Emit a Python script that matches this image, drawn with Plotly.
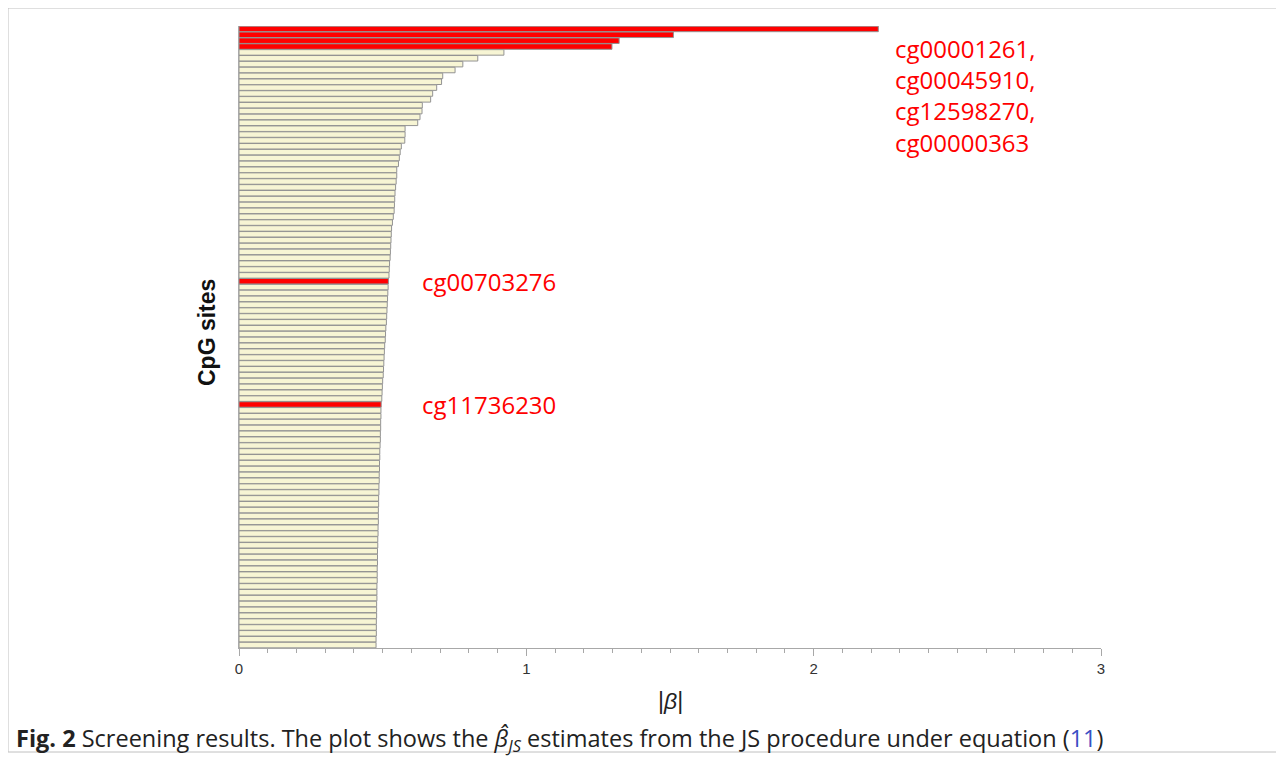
import plotly.graph_objects as go

# |beta| estimates for CpG sites, sorted descending (top to bottom)
values = [
    2.225, 1.512, 1.323, 1.298, 0.922, 0.831, 0.779, 0.752, 0.709, 0.705,
    0.688, 0.674, 0.667, 0.638, 0.637, 0.630, 0.622, 0.578, 0.578, 0.577,
    0.565, 0.561, 0.558, 0.555, 0.549, 0.549, 0.547, 0.545, 0.543, 0.542,
    0.541, 0.540, 0.537, 0.534, 0.531, 0.530, 0.529, 0.528, 0.527, 0.526,
    0.524, 0.523, 0.522, 0.520, 0.519, 0.518, 0.517, 0.516, 0.515, 0.514,
    0.513, 0.511, 0.510, 0.509, 0.507, 0.506, 0.505, 0.504, 0.503, 0.502,
    0.500, 0.499, 0.498, 0.497, 0.495, 0.494, 0.494, 0.493, 0.493, 0.492,
    0.492, 0.491, 0.490, 0.490, 0.489, 0.489, 0.488, 0.488, 0.487, 0.487,
    0.486, 0.486, 0.485, 0.485, 0.485, 0.484, 0.484, 0.483, 0.483, 0.482,
    0.482, 0.482, 0.481, 0.481, 0.481, 0.480, 0.480, 0.480, 0.479, 0.479,
    0.479, 0.478, 0.478, 0.478, 0.477, 0.477,
]
positions = list(range(len(values)))
highlight_idx = [0, 1, 2, 3, 43, 64]
top_sites = ["cg00001261,", "cg00045910,", "cg12598270,", "cg00000363"]
mid_site_1 = "cg00703276"
mid_site_2 = "cg11736230"
x_ticks = [0, 1, 2, 3]

CREAM = "#f7f5d4"
RED = "#ff0000"
GRAY = "#939393"
AXIS_GRAY = "#a8a8a8"

colors = [RED if i in highlight_idx else CREAM for i in positions]

fig = go.Figure()
fig.add_trace(go.Bar(
    x=values, y=positions, orientation="h",
    marker=dict(color=colors, line=dict(color=GRAY, width=1)),
    hoverinfo="x",
))

# page body has an 8px margin; work in screenshot pixels and offset
OFF = 8
W, H = 1284, 761
PL, PR, PT, PB = 239, 1101, 26, 648   # plot area in screenshot pixels
L = PL - OFF
T = PT - OFF
R = W - (PR - OFF)
B = H - (PB - OFF)

fig.update_layout(
    width=W, height=H,
    margin=dict(l=L, r=R, t=T, b=B),
    paper_bgcolor="white", plot_bgcolor="white",
    bargap=0.06, showlegend=False,
    font=dict(family="Liberation Sans, Arial, sans-serif", color="#333"),
)
fig.update_xaxes(
    range=[0, 3], tickvals=x_ticks, ticktext=[str(t) for t in x_ticks],
    showline=True, linecolor=AXIS_GRAY, linewidth=1,
    ticks="outside", ticklen=7, tickcolor=AXIS_GRAY, tickwidth=1,
    minor=dict(dtick=0.1, ticks="outside", ticklen=4, tickcolor=AXIS_GRAY, tickwidth=1),
    showgrid=False, zeroline=False,
    tickfont=dict(size=15, color="#333"),
)
fig.update_yaxes(
    range=[len(values) - 0.5, -0.5],
    showline=True, linecolor=AXIS_GRAY, linewidth=1,
    showticklabels=False, ticks="", showgrid=False, zeroline=False,
)

pw = PR - PL
ph = PB - PT

def px_x(p):
    return (p - PL) / pw

def px_y(p):
    return (PB - p) / ph

# Y axis title
fig.add_annotation(
    xref="paper", yref="paper", x=px_x(207), y=px_y(333),
    text="<b>CpG sites</b>", textangle=-90, showarrow=False,
    font=dict(size=23, color="#111", family="Liberation Sans, Arial, sans-serif"),
    xanchor="center", yanchor="middle",
)
# X axis title
fig.add_annotation(
    xref="paper", yref="paper", x=px_x(670), y=px_y(701),
    text="|<i>β</i>|", showarrow=False,
    font=dict(size=23, color="#222", family="Liberation Sans, Arial, sans-serif"),
    xanchor="center", yanchor="middle",
)

# red labels
lab_font = dict(size=24, color=RED, family="Open Sans, sans-serif")
fig.add_annotation(
    xref="x", yref="paper", x=(893 - PL) / (pw / 3), y=px_y(96),
    text="<br>".join(top_sites), align="left", showarrow=False,
    font=lab_font, xanchor="left", yanchor="middle",
)
fig.add_annotation(
    xref="x", yref="y", x=(420 - PL) / (pw / 3), y=43,
    text=mid_site_1, showarrow=False, font=lab_font,
    xanchor="left", yanchor="middle",
)
fig.add_annotation(
    xref="x", yref="y", x=(420 - PL) / (pw / 3), y=64,
    text=mid_site_2, showarrow=False, font=lab_font,
    xanchor="left", yanchor="middle",
)

# caption
fig.add_annotation(
    xref="paper", yref="paper", x=px_x(14), y=px_y(739),
    text=("<b>Fig. 2</b> Screening results. The plot shows the "
          "<i>β̂</i><sub><i>JS</i></sub> estimates from the JS procedure under equation "
          "(<span style='color:#3a4fc4'>11</span>)"),
    showarrow=False, xanchor="left", yanchor="middle", align="left",
    font=dict(size=23.5, color="#222", family="Open Sans, sans-serif"),
)

# outer frame
fig.add_shape(
    type="rect", xref="paper", yref="paper",
    x0=px_x(8), x1=px_x(1300), y0=px_y(752), y1=px_y(8),
    line=dict(color="#c0c0c0", width=1), fillcolor="rgba(0,0,0,0)", layer="below",
)

fig.write_html("out.html")
